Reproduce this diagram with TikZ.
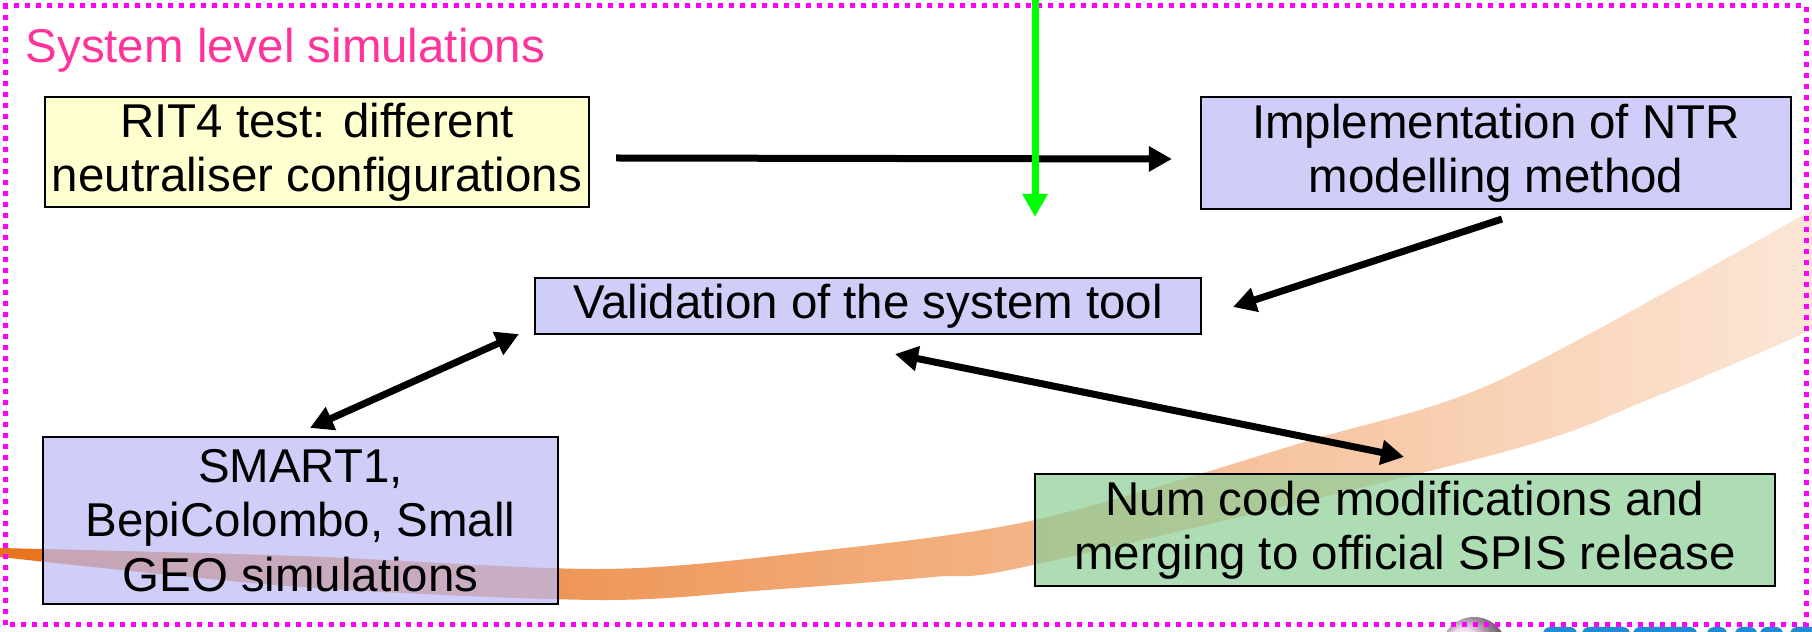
\documentclass[tikz,border=0pt]{standalone}
\usepackage{fontspec}
\setmainfont{Liberation Sans}
\usetikzlibrary{arrows.meta}

\definecolor{titlepink}{RGB}{255,51,153}
\definecolor{framemagenta}{RGB}{255,0,255}
\definecolor{boxyellow}{RGB}{255,255,188}
\definecolor{boxblue}{RGB}{185,185,245}
\definecolor{boxgreen}{RGB}{140,205,150}
\definecolor{swooshdark}{RGB}{232,114,30}
\definecolor{swooshmid}{RGB}{242,162,104}
\definecolor{swooshpale}{RGB}{252,230,214}
\definecolor{logoblue}{RGB}{30,140,210}

\begin{document}
\begin{tikzpicture}[
	every node/.style={font=\fontsize{13.5}{15.5}\selectfont},
	task/.style={draw=black, line width=0.6pt, fill opacity=0.7, text opacity=1, align=center, inner sep=0pt},
	link/.style={line width=0.07cm, -{Triangle[length=0.23cm,width=0.24cm]}},
	twoway/.style={line width=0.07cm, {Triangle[length=0.23cm,width=0.24cm]}-{Triangle[length=0.23cm,width=0.24cm]}}
]
	\useasboundingbox (0,0) rectangle (18.12,6.32);
	\clip (0,0) rectangle (18.12,6.32);

	\shade [left color=swooshdark, middle color=swooshmid, right color=swooshpale]
		plot [smooth] coordinates {(0,0.84) (3,0.76) (6,0.63) (8,0.79) (10.35,1.12) (13.11,1.92) (15,2.52) (18.12,4.22)} --
		plot [smooth] coordinates {(18.12,3.02) (16.5,2.33) (15,1.79) (10.33,0.67) (9.33,0.55) (7.67,0.42) (6,0.32) (3,0.45) (0,0.75)} -- cycle;

	\shade [ball color=violet!20] (14.74,-0.18) circle (0.33);
	\foreach \a/\b in {15.43/15.77, 15.82/16.30, 16.33/16.97, 17.07/17.27, 17.35/17.57, 17.60/17.83, 17.90/18.20}
		\fill [logoblue, rounded corners=2pt] (\a,-0.3) rectangle (\b,0.05);

	\draw [framemagenta, line width=0.05cm, dash pattern=on 0.05cm off 0.06cm] (0.06,0.07) rectangle (18.06,6.26);

	\node [anchor=base west, text=titlepink, inner sep=0pt] (title) at (0.25,5.69) {System level simulations};

	\node [task, fill=boxyellow, minimum width=5.44cm, minimum height=1.10cm] (rit) at (3.17,4.80) {RIT4 test: different\\neutraliser configurations};
	\node [task, fill=boxblue, minimum width=5.90cm, minimum height=1.12cm] (ntr) at (14.96,4.79) {Implementation of NTR\\modelling method};
	\node [task, fill=boxblue, minimum width=6.66cm, minimum height=0.56cm] (valid) at (8.68,3.26) {Validation of the system tool};
	\node [task, fill=boxblue, minimum width=5.15cm, minimum height=1.67cm] (missions) at (3.005,1.115) {SMART1,\\BepiColombo, Small\\GEO simulations};
	\node [task, fill=boxgreen, minimum width=7.40cm, minimum height=1.12cm] (spis) at (14.05,1.02) {Num code modifications and\\merging to official SPIS release};

	\draw [link] ([shift={(0.26,-0.06)}]rit.east) -- ([shift={(-0.28,-0.06)}]ntr.west);
	\draw [link] ([shift={(0.06,-0.09)}]ntr.south) -- ([shift={(0.31,-0.01)}]valid.east);
	\draw [twoway] ([shift={(-0.15,0.01)}]valid.south west) -- ([shift={(0.095,0.08)}]missions.north);
	\draw [twoway] ([shift={(0.27,-0.19)}]valid.south) -- ([shift={(-0.01,0.16)}]spis.north);

	\coordinate (feed) at (10.35,6.40);
	\coordinate (feedin) at (10.35,4.15);
	\draw [link, color=green] (feed) -- (feedin);
\end{tikzpicture}
\end{document}
